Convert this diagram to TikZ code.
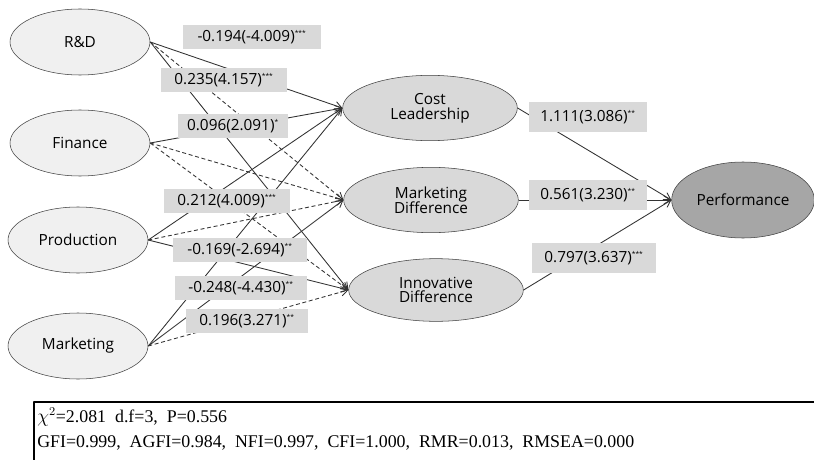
\documentclass[tikz,border=0pt]{standalone}
\usepackage{fontspec}
\setmainfont{Liberation Serif}
\newfontfamily\diagfont{Open Sans}
\usetikzlibrary{arrows.meta,shapes.geometric}
\tikzset{latent/.style={ellipse,draw=black!75,fill=black!6,minimum width=105pt,minimum height=49.5pt,inner sep=0pt,align=center,font=\diagfont\fontsize{11.5}{13}\selectfont},
  coef/.style={fill=black!15,minimum width=#1,minimum height=17.5pt,inner sep=0pt,font=\diagfont\fontsize{11.5}{13}\selectfont},
  sig/.style={draw=black!80,line width=0.65pt,->},
  ns/.style={sig,dash pattern=on 3pt off 2pt}}
\newcommand{\pstar}[1]{\textsuperscript{\tiny #1}}

\begin{document}
\begin{tikzpicture}[x=0.75pt,y=-0.75pt,>={Straight Barb[length=5pt,width=6pt]},line join=round]
\useasboundingbox (0,0) rectangle (814,460);
% --- exogenous factors
\node[latent] (rd) at (80,42) {R\&D};
\node[latent] (fin) at (80,143) {Finance};
\node[latent] (prod) at (78,240) {Production};
\node[latent] (mkt) at (78,346) {Marketing};
% --- strategies and outcome
\node[latent,fill=black!15,minimum width=131pt,minimum height=49pt] (cost) at (430,108) {Cost\\[-2pt]Leadership};
\node[latent,fill=black!15,minimum width=131pt,minimum height=49pt] (mdiff) at (431,200) {Marketing\\[-2pt]Difference};
\node[latent,fill=black!15,minimum width=131pt,minimum height=47pt] (idiff) at (436,290) {Innovative\\[-2pt]Difference};
\node[latent,fill=black!35,minimum width=107pt,minimum height=57pt] (perf) at (743,200) {Performance};
% --- paths (solid: significant, dashed: not significant)
\draw[sig] (rd.east) -- (cost.west);
\draw[ns] (rd.east) -- (mdiff.west);
\draw[sig] (rd.east) -- (idiff.west);
\draw[sig] (fin.east) -- (cost.west);
\draw[ns] (fin.east) -- (mdiff.west);
\draw[ns] (fin.east) -- (idiff.west);
\draw[sig] (prod.east) -- (cost.west);
\draw[ns] (prod.east) -- (mdiff.west);
\draw[sig] (prod.east) -- (idiff.west);
\draw[sig] (mkt.east) -- (cost.west);
\draw[sig] (mkt.east) -- (mdiff.west);
\draw[ns] (mkt.east) -- (idiff.west);
\foreach \m in {cost,mdiff,idiff} \draw[sig] (\m.east) -- (perf.west);
% --- coefficients (t values)
\node[coef=103pt] (c1) at (252,37) {-0.194(-4.009)\pstar{***}};
\node[coef=94.5pt] (c2) at (224,80) {0.235(4.157)\pstar{***}};
\node[coef=82pt] (c3) at (233,126) {0.096(2.091)\pstar{*}};
\node[coef=94.5pt] (c4) at (227,201) {0.212(4.009)\pstar{***}};
\node[coef=100pt] (c5) at (240,250) {-0.169(-2.694)\pstar{**}};
\node[coef=99pt] (c6) at (241,288) {-0.248(-4.430)\pstar{**}};
\node[coef=91.5pt] (c7) at (247,321) {0.196(3.271)\pstar{**}};
\node[coef=88pt,minimum height=22pt] (c8) at (588,117) {1.111(3.086)\pstar{**}};
\node[coef=88pt,minimum height=22pt] (c9) at (588,195) {0.561(3.230)\pstar{**}};
\node[coef=93pt,minimum height=22pt] (c10) at (594,258) {0.797(3.637)\pstar{***}};
% --- fit indices
\draw[line width=0.8pt] (34,470) -- (34,402) -- (814,402);
\node[anchor=base west,font=\fontsize{13.4}{15}\selectfont,inner sep=0pt] (fit1) at (37,422) {$\chi^2$=2.081\ \ d.f=3,\ \ P=0.556};
\node[anchor=base west,font=\fontsize{13.4}{15}\selectfont,inner sep=0pt] (fit2) at (37,447) {GFI=0.999,\ \ AGFI=0.984,\ \ NFI=0.997,\ \ CFI=1.000,\ \ RMR=0.013,\ \ RMSEA=0.000};
\end{tikzpicture}
\end{document}
